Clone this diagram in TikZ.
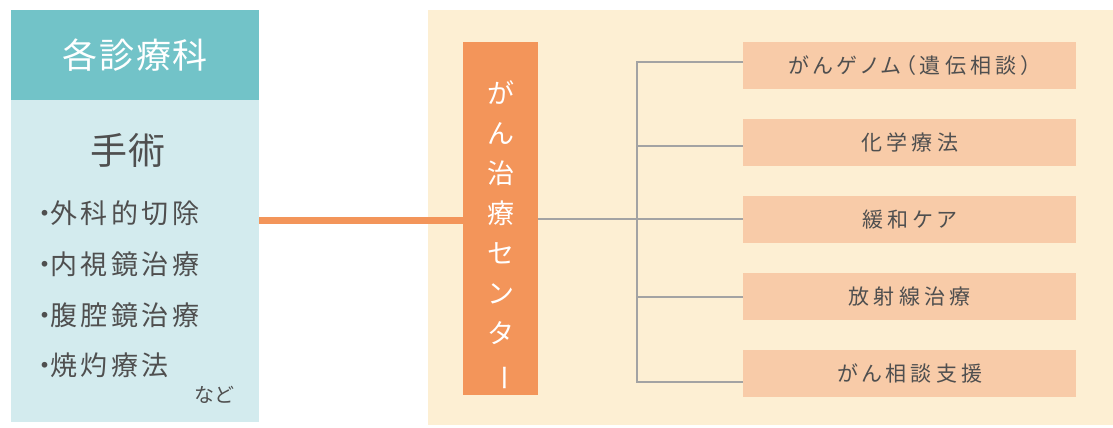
\documentclass[tikz,border=0pt]{standalone}
\usepackage{fontspec}
\usepackage{graphicx}
\newfontfamily\jp{Noto Sans CJK JP}
\newfontfamily\jpsp[LetterSpace=5]{Noto Sans CJK JP}
\newfontfamily\jpsub[LetterSpace=20,RawFeature=+palt]{Noto Sans CJK JP}
\newfontfamily\jpitem[LetterSpace=13]{Noto Sans CJK JP}
\definecolor{teal}{HTML}{72C3C8}
\definecolor{paleblue}{HTML}{D3EBEE}
\definecolor{beige}{HTML}{FDEFD3}
\definecolor{orangec}{HTML}{F3955A}
\definecolor{peach}{HTML}{F8CBA8}
\definecolor{linegray}{HTML}{A3A3A3}
\definecolor{txtgray}{HTML}{4F4F4F}
\newcommand{\bul}{・\hspace{-8pt}}
\begin{document}
\begin{tikzpicture}[x=1pt,y=-1pt,
  sub/.style={fill=peach,minimum width=333pt,minimum height=47pt,inner sep=0pt,
    font=\jpsub\fontsize{21}{21}\selectfont,text=txtgray},
  branch/.style={draw=linegray,line width=1.8pt},
  item/.style={anchor=west,inner sep=0pt,font=\jpitem\fontsize{27}{27}\selectfont,text=txtgray}]
\useasboundingbox (0,0) rectangle (1113,428);
\fill[white] (0,0) rectangle (1113,428);
% panels
\fill[beige] (428,10) rectangle (1113,425);
\fill[paleblue] (11,100) rectangle (259,422);
\node[fill=teal,minimum width=248pt,minimum height=90pt,inner sep=0pt,anchor=north west,
  text=white,font=\jpsp\fontsize{35}{35}\selectfont] (hdr) at (11,10) {各診療科};
\coordinate (leftedge) at (259,220);
\node[font=\jpsp\fontsize{37}{37}\selectfont,text=txtgray] (shujutsu) at (128,150) {手術};
\node[item] (i1) at (31,213) {\bul 外科的切除};
\node[item] (i2) at (31,264) {\bul 内視鏡治療};
\node[item] (i3) at (31,315) {\bul 腹腔鏡治療};
\node[item] (i4) at (31,365) {\bul 焼灼療法};
\node[font=\jp\fontsize{20}{20}\selectfont,text=txtgray,inner sep=0pt] (nado) at (214,395) {など};
% center
\node[fill=orangec,minimum width=75pt,minimum height=353pt,inner sep=0pt,anchor=north west] (center) at (463,42) {};
\node[text=white,font=\jp\fontsize{27}{40}\selectfont,align=center,inner sep=0pt] (ctext) at (500.5,236)
  {が\\ん\\治\\療\\セ\\ン\\タ\\\rotatebox[origin=c]{-90}{ー}};
\draw[orangec,line width=7pt] (leftedge) -- (center.west |- leftedge);
% subs
\node[sub,anchor=north west] (s1) at (743,42) {がんゲノム（遺伝相談）};
\node[sub,anchor=north west] (s2) at (743,119) {化学療法};
\node[sub,anchor=north west] (s3) at (743,196) {緩和ケア};
\node[sub,anchor=north west] (s4) at (743,273) {放射線治療};
\node[sub,anchor=north west] (s5) at (743,350) {がん相談支援};
\coordinate (bus) at (637,219);
\draw[branch] (center.east |- bus) -- (bus);
\draw[branch] (s1.west |- 0,62) -| (637,382) -- (s5.west |- 0,382);
\draw[branch] (637,146) -- (s2.west |- 0,146);
\draw[branch] (637,219) -- (s3.west |- 0,219);
\draw[branch] (637,297) -- (s4.west |- 0,297);
\end{tikzpicture}
\end{document}
